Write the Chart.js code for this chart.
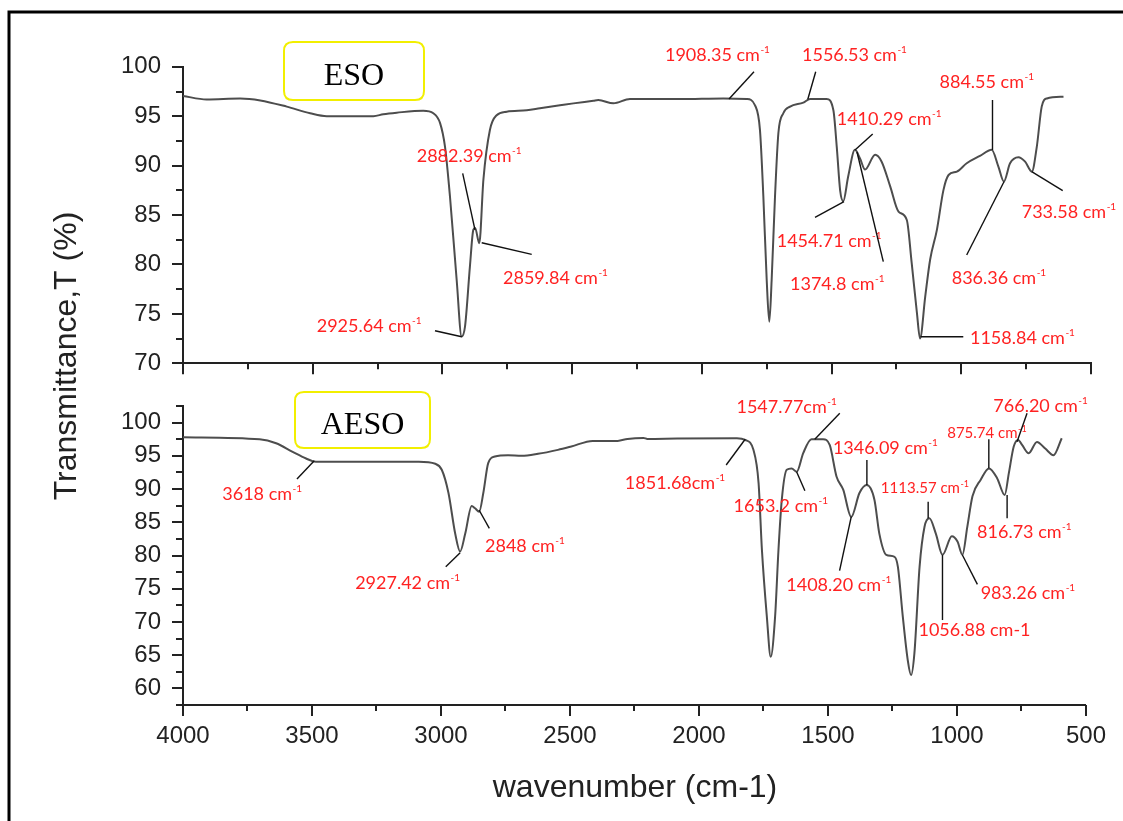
<!DOCTYPE html>
<html><head><meta charset="utf-8">
<script src="https://cdn.jsdelivr.net/npm/chart.js@4.4.1/dist/chart.umd.min.js"></script>
<style>
html,body{margin:0;padding:0;background:#fff;}
#wrap{position:relative;width:1123px;height:821px;background:#fff;overflow:hidden}
canvas{position:absolute;left:0;top:0}
</style></head><body>
<div id="wrap"><canvas id="c1" width="1123" height="821"></canvas><canvas id="c2" width="1123" height="821"></canvas></div>
<script>
// ---------------- data ----------------
const esoWavenumber = [4000,3909,3780,3702,3600,3510,3446,3266,3228,3176,3074,3035,3009,2990,2971,2945,2926,2913,2894,2881,2874,2858,2842,2817,2791,2752,2675,2624,2547,2495,2418,2399,2341,2277,2084,1917,1827,1795,1776,1763,1750,1740,1731,1718,1705,1686,1660,1609,1583,1519,1493,1480,1467,1455,1436,1410,1390,1371,1332,1307,1274,1242,1210,1191,1171,1159,1139,1120,1094,1069,1049,1017,979,928,883,857,836,812,780,754,728,709,690,670,606];
const esoTransmittance = [97.05,96.7,96.8,96.6,95.97,95.3,95.0,95.0,95.2,95.36,95.56,95.3,94.3,91.9,86.9,78.4,72.7,73.7,79.8,83.5,83.7,82.15,88.6,93.6,95.1,95.46,95.6,95.8,96.1,96.3,96.57,96.64,96.3,96.74,96.74,96.8,96.74,96.1,93.6,86.9,78.4,74.2,78.4,86.9,93.3,95.3,95.97,96.37,96.74,96.74,95.6,91.9,87.5,86.4,88.9,91.6,90.7,89.6,91.1,90.4,87.9,85.35,84.5,80.1,75.1,72.5,76.75,80.5,83.5,87.5,89.05,89.4,90.24,90.98,91.6,89.9,88.4,90.24,90.85,90.4,89.4,91.9,95.97,96.8,96.98];

const aesoWavenumber = [4000,3703,3639,3575,3523,3485,3086,3022,2997,2971,2945,2926,2906,2881,2868,2852,2836,2817,2791,2740,2688,2624,2547,2495,2412,2315,2277,2215,2200,2084,1853,1821,1789,1769,1756,1737,1722,1705,1692,1679,1660,1641,1621,1596,1564,1519,1493,1467,1441,1410,1378,1350,1320,1301,1274,1242,1229,1210,1191,1178,1165,1145,1126,1107,1082,1056,1020,998,979,960,940,908,876,844,815,799,780,763,747,722,690,658,626,594];
const aesoTransmittance = [97.8,97.5,96.9,95.6,94.6,94.1,94.1,93.8,92.9,89.4,83.3,80.6,83.3,87.45,87.1,86.6,89.4,93.9,94.9,95.1,95.0,95.3,95.9,96.4,97.25,97.25,97.55,97.7,97.55,97.6,97.65,97.4,95.9,90.9,80.8,70.8,64.75,70.8,80.8,88.4,92.9,93.1,92.6,95.4,97.5,97.5,96.6,91.9,89.9,85.8,89.4,90.6,88.4,83.3,80.1,79.8,78.3,70.8,64.3,62.0,65.3,78.3,84.3,85.6,83.3,80.1,82.9,82.1,80.1,84.3,88.9,91.4,93.1,91.6,89.1,92.4,96.4,97.4,96.6,95.4,97.1,96.1,95.1,97.65];

const xTickValues = [4000,3500,3000,2500,2000,1500,1000,500];
const xMinorValues = [3750,3250,2750,2250,1750,1250,750];
const esoYTicks = [70,75,80,85,90,95,100];
const esoYMinor = [72.5,77.5,82.5,87.5,92.5,97.5];
const aesoYTicks = [60,65,70,75,80,85,90,95,100];
const aesoYMinor = [57.5,62.5,67.5,72.5,77.5,82.5,87.5,92.5,97.5,102.5];

const esoName = 'ESO';
const aesoName = 'AESO';
const xTitle = 'wavenumber (cm-1)';
const yTitle = 'Transmittance,T (%)';

// peak annotations (text, anchor wavenumber, anchor transmittance)
const esoPeakLabels = ['2882.39 cm','2859.84 cm','2925.64 cm','1908.35 cm','1556.53 cm','1410.29 cm','1454.71 cm','1374.8 cm','1158.84 cm','884.55 cm','836.36 cm','733.58 cm'];
const esoPeakW = [2874.5,2848.6,2925.7,1895.4,1591.6,1409.7,1452.1,1402,1156.5,879.7,835.4,728.6];
const esoPeakT = [83.49,82.2,72.69,96.74,96.71,91.58,86.35,91.38,72.69,91.58,88.37,89.39];
const aesoPeakLabels = ['3618 cm','2927.42 cm','2848 cm','1851.68cm','1547.77cm','1653.2 cm','1346.09 cm','1408.20 cm','1113.57 cm','1056.88 cm-1','983.26 cm','875.74 cm','816.73 cm','766.20 cm'];
const aesoPeakW = [3491.2,2925.7,2852.5,1821,1551.2,1621.7,1349.2,1409.7,1111.7,1056.2,979.1,876.6,805.7,767.2];
const aesoPeakT = [94.27,80.42,86.85,97.49,97.49,92.61,90.61,85.84,85.6,80.07,80.07,93.12,89.1,97.13];

// ---------------- layout / style (pixels) ----------------
// [leaderDx, leaderDy, textDx, textDy, fontSize, superscript]
const esoPeakLayout = [[-12.3,-56.7,-58.3,-73.3,18,1],[50,11.6,21.3,35.3,18,1],[-26.7,-6,-145,-11,18,1],[25,-27.3,-64,-44,18,1],[7.9,-27.6,-5.8,-44.3,18,1],[17.7,-16,-18.3,-31,18,1],[-29,15.6,-67.3,39.3,18,1],[26.3,109.7,-67,132,18,1],[42.6,0,49.3,1.3,18,1],[0,-50,-53,-68.3,18,1],[-37.3,73.3,-52.3,96,18,1],[31,19,-10,41,18,1]];
const aesoPeakLayout = [[-17.3,18.3,-92,33.6,18,1],[-14.4,14,-105,30.6,18,1],[10.3,18.3,6,36,18,1],[-19,25.7,-120.3,43.4,18,1],[25,-26,-78.3,-32.6,18,1],[8.3,19,-63,34.3,18,1],[0,-25,-34,-37.3,18,1],[-11.7,54,-65,68.3,18,1],[0,-16.6,-47.3,-30,15,1],[0,65,-24,75,18,0],[15,29.3,18.3,38.3,18,1],[0,-29,-41.6,-35,15,1],[0,23.3,-30,36.7,18,1],[10,-28.4,-23.7,-35,18,1]];

const SANS = '"Liberation Sans", Arial, sans-serif';
const LABELFONT = 'Lato, "Open Sans", sans-serif';
const RED = '#ff2222';
const AXC = '#222';

function roundRect(ctx, x, y, w, h, r) {
  ctx.beginPath();
  ctx.moveTo(x + r, y); ctx.lineTo(x + w - r, y); ctx.quadraticCurveTo(x + w, y, x + w, y + r);
  ctx.lineTo(x + w, y + h - r); ctx.quadraticCurveTo(x + w, y + h, x + w - r, y + h);
  ctx.lineTo(x + r, y + h); ctx.quadraticCurveTo(x, y + h, x, y + h - r);
  ctx.lineTo(x, y + r); ctx.quadraticCurveTo(x, y, x + r, y); ctx.closePath();
}

function makePanelPlugin(cfg) {
  return {
    id: 'panel' + cfg.name,
    afterDraw(chart) {
      const ctx = chart.ctx, xs = chart.scales.x, ys = chart.scales.y, ca = chart.chartArea;
      ctx.save();
      // tick marks
      ctx.strokeStyle = AXC; ctx.lineWidth = 2; ctx.beginPath();
      xTickValues.forEach(v => { const p = Math.round(xs.getPixelForValue(v)); ctx.moveTo(p, ca.bottom); ctx.lineTo(p, ca.bottom + 11); });
      xMinorValues.forEach(v => { const p = Math.round(xs.getPixelForValue(v)); ctx.moveTo(p, ca.bottom); ctx.lineTo(p, ca.bottom + 6); });
      cfg.yMajor.forEach(v => { const p = Math.round(ys.getPixelForValue(v)); ctx.moveTo(ca.left - 11, p); ctx.lineTo(ca.left, p); });
      cfg.yMinor.forEach(v => { const p = Math.round(ys.getPixelForValue(v)); ctx.moveTo(ca.left - 7, p); ctx.lineTo(ca.left, p); });
      ctx.stroke();
      // sample name box
      const b = cfg.box;
      ctx.strokeStyle = '#f2ef00'; ctx.lineWidth = 2;
      roundRect(ctx, b[0], b[1], b[2], b[3], 9); ctx.stroke();
      ctx.fillStyle = '#000'; ctx.font = '32px "Liberation Serif", "Times New Roman", serif';
      ctx.textAlign = 'center'; ctx.textBaseline = 'alphabetic';
      ctx.fillText(cfg.name, b[0] + b[2] / 2, b[4]);
      // peak annotations
      cfg.labels.forEach((txt, i) => {
        const L = cfg.layout[i];
        const ax = xs.getPixelForValue(cfg.w[i]), ay = ys.getPixelForValue(cfg.t[i]);
        ctx.strokeStyle = '#111'; ctx.lineWidth = 1.4;
        ctx.beginPath(); ctx.moveTo(ax, ay); ctx.lineTo(ax + L[0], ay + L[1]); ctx.stroke();
        ctx.fillStyle = RED; ctx.textAlign = 'left'; ctx.textBaseline = 'middle';
        ctx.font = L[4] + 'px ' + LABELFONT;
        const tx = ax + L[2], ty = ay + L[3];
        ctx.fillText(txt, tx, ty);
        if (L[5]) {
          const w = ctx.measureText(txt).width;
          ctx.font = Math.round(L[4] * 0.58) + 'px ' + LABELFONT;
          ctx.fillText('-1', tx + w + 0.5, ty - L[4] * 0.3);
        }
      });
      if (cfg.extra) cfg.extra(ctx);
      ctx.restore();
    }
  };
}

function baseOptions(ymin, ymax, yTicks, padTop, padBottom, xHeight, showXLabels) {
  return {
    responsive: false, animation: false, devicePixelRatio: 1,
    layout: { padding: { left: 0, top: padTop, right: 32, bottom: padBottom } },
    plugins: { legend: { display: false }, tooltip: { enabled: false } },
    elements: { point: { radius: 0 } },
    scales: {
      x: {
        type: 'linear', min: 500, max: 4000, reverse: true, position: 'bottom',
        afterFit: s => { s.height = xHeight; },
        afterBuildTicks: s => { s.ticks = xTickValues.map(v => ({ value: v })); },
        grid: { display: false, drawTicks: false },
        border: { display: true, color: AXC, width: 2 },
        ticks: { display: showXLabels, autoSkip: false, maxRotation: 0, padding: 17, color: AXC,
                 font: { family: SANS, size: 24 }, callback: v => String(v) }
      },
      y: {
        type: 'linear', min: ymin, max: ymax, position: 'left',
        afterFit: s => { s.width = 183; },
        afterBuildTicks: s => { s.ticks = yTicks.map(v => ({ value: v })); },
        grid: { display: false, drawTicks: false },
        border: { display: true, color: AXC, width: 2 },
        ticks: { autoSkip: false, padding: 22, color: AXC, font: { family: SANS, size: 24 }, callback: v => String(v) }
      }
    }
  };
}

function series(ws, ts) { return ws.map((w, i) => ({ x: w, y: ts[i] })); }

const lineStyle = { borderColor: '#4d4d4d', borderWidth: 2, pointRadius: 0, cubicInterpolationMode: 'monotone', fill: false };

// top panel: ESO (plot area y 66.8 .. 363.3)
new Chart(document.getElementById('c1'), {
  type: 'line',
  data: { datasets: [Object.assign({ label: esoName, data: series(esoWavenumber, esoTransmittance) }, lineStyle)] },
  options: baseOptions(70, 100, esoYTicks, 66.8, 821 - 363.3 - 20, 20, false),
  plugins: [makePanelPlugin({
    name: esoName, yMajor: esoYTicks, yMinor: esoYMinor, box: [284, 42, 140, 58, 85],
    labels: esoPeakLabels, w: esoPeakW, t: esoPeakT, layout: esoPeakLayout,
    extra: ctx => {
      // outer frame
      ctx.strokeStyle = '#000'; ctx.lineWidth = 3;
      ctx.beginPath(); ctx.moveTo(9, 821); ctx.lineTo(9, 12); ctx.lineTo(1123, 12); ctx.stroke();
      // y title
      ctx.save(); ctx.translate(67, 356); ctx.rotate(-Math.PI / 2);
      ctx.fillStyle = AXC; ctx.font = '32px ' + SANS; ctx.textAlign = 'center'; ctx.textBaseline = 'middle';
      ctx.fillText(yTitle, 0, 0); ctx.restore();
    }
  })]
});

// bottom panel: AESO (plot area y 406 .. 705)
new Chart(document.getElementById('c2'), {
  type: 'line',
  data: { datasets: [Object.assign({ label: aesoName, data: series(aesoWavenumber, aesoTransmittance) }, lineStyle)] },
  options: baseOptions(57.5, 102.5, aesoYTicks, 406, 821 - 705 - 80, 80, true),
  plugins: [makePanelPlugin({
    name: aesoName, yMajor: aesoYTicks, yMinor: aesoYMinor, box: [295, 392, 135, 56, 433.5],
    labels: aesoPeakLabels, w: aesoPeakW, t: aesoPeakT, layout: aesoPeakLayout,
    extra: ctx => {
      ctx.fillStyle = AXC; ctx.font = '32px ' + SANS; ctx.textAlign = 'center'; ctx.textBaseline = 'alphabetic';
      ctx.fillText(xTitle, 635, 797);
    }
  })]
});
</script>
</body></html>
